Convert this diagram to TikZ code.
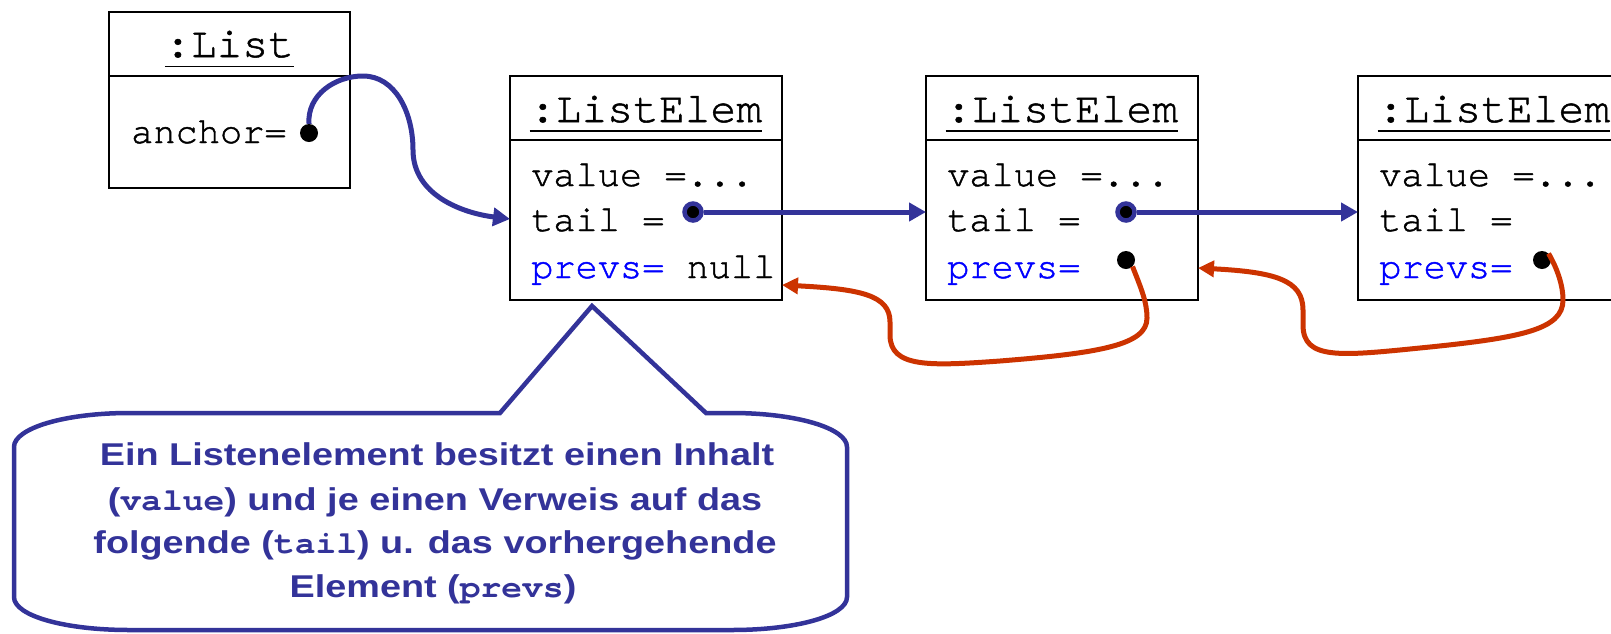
\documentclass[tikz,border=0pt]{standalone}
\usepackage{fontspec}
\setmonofont{texgyrecursor}[Extension=.otf, UprightFont=*-regular, BoldFont=*-bold, FakeBold=1.2]
\newfontfamily\bubblesans{Liberation Sans}[FakeStretch=1.2]
\newfontfamily\bubblemono{texgyrecursor}[Extension=.otf, UprightFont=*-regular, BoldFont=*-bold, FakeStretch=1.1]
\usetikzlibrary{arrows.meta}
\definecolor{linkblue}{HTML}{333399}
\definecolor{backred}{HTML}{CC3300}
\definecolor{fieldblue}{HTML}{0000FF}

\begin{document}
\begin{tikzpicture}[x=1pt,y=-1pt,
  objbox/.style={draw=black, line width=1.8pt, inner sep=0pt, outer sep=0pt, anchor=north west},
  divider/.style={draw=black, line width=1.8pt},
  objtitle/.style={inner sep=0pt, anchor=base, font=\ttfamily\fontsize{43}{50}\selectfont},
  field/.style={inner sep=0pt, anchor=base west, font=\ttfamily\fontsize{37}{44}\selectfont},
  refdot/.style={circle, fill=black, inner sep=0pt, minimum size=18pt},
  ringdot/.style={circle, fill=black, draw=linkblue, line width=4.5pt, inner sep=0pt, minimum size=17pt},
  fwd/.style={draw=linkblue, line width=5pt, -{Triangle[length=17pt,width=18pt]}},
  bwd/.style={draw=backred, line width=5pt, -{Triangle[length=16pt,width=16pt]}},
  note/.style={inner sep=0pt, anchor=base, text=linkblue, font=\bubblesans\bfseries\fontsize{31.5}{44}\selectfont},
]
\useasboundingbox (0,0) rectangle (1611,633);
\clip (0,0) rectangle (1611,633);

% the list object
\node[objbox, minimum width=241pt, minimum height=176pt] (list) at (109,12) {};
\draw[divider] (list.west |- 0,76) -- (list.east |- 0,76);
\node[objtitle] (listT) at (229.5,57) {:List};
\draw[divider] ([yshift=-9.5pt]listT.base west) -- ([yshift=-9.5pt]listT.base east);
\node[field] (anchorF) at (131,143) {anchor=};
\node[refdot] (anc) at (309,133) {};

% three list elements
\foreach \i/\x in {1/510, 2/926, 3/1358} {
  \node[objbox, minimum width=272pt, minimum height=224pt] (e\i) at (\x,76) {};
  \draw[divider] (e\i.west |- 0,140) -- (e\i.east |- 0,140);
  \node[objtitle] (e\i T) at (\x+136,122) {:ListElem};
  \draw[divider] ([yshift=-9pt]e\i T.base west) -- ([yshift=-9pt]e\i T.base east);
  \node[field] (e\i v) at (\x+21,186) {value =...};
  \node[field] (e\i t) at (\x+21,231) {tail =};
}
\node[field] (e1p) at (531,278) {\textcolor{fieldblue}{prevs=} null};
\node[field] (e2p) at (947,278) {\textcolor{fieldblue}{prevs=}};
\node[field] (e3p) at (1379,278) {\textcolor{fieldblue}{prevs=}};

% reference dots
\node[ringdot] (r1) at (693,212) {};
\node[ringdot] (r2) at (1126,212) {};
\node[refdot] (p2) at (1126,260) {};
\node[refdot] (p3) at (1542,260) {};

% forward references
\draw[fwd] (anc.north) .. controls (307,95) and (335,76) .. (363,76)
  .. controls (395,76) and (413,112) .. (413,150)
  .. controls (413,195) and (462,213) .. (e1.west |- 0,219);
\draw[fwd] (r1.east) -- (e2.west |- r1);
\draw[fwd] (r2.east) -- (e3.west |- r2);

% backward references
\draw[bwd] (p2.south east) .. controls (1141,288) and (1147,302) .. (1147,318)
  .. controls (1147,345) and (1100,353) .. (1000,361)
  .. controls (930,366) and (890,368) .. (890,335) -- (890,322)
  .. controls (890,295) and (860,289) .. (e1.east |- 0,285);
\draw[bwd] (p3.north east) .. controls (1557,268) and (1563,285) .. (1563,300)
  .. controls (1563,330) and (1520,338) .. (1420,348)
  .. controls (1340,356) and (1303,360) .. (1303,325) -- (1303,310)
  .. controls (1303,280) and (1275,272) .. (e2.east |- 0,268);

% callout
\draw[draw=linkblue, line width=4.5pt, line join=miter]
  (500,413) -- (129,413) .. controls (65.5,413) and (14,428) .. (14,447)
  -- (14,597) .. controls (14,616) and (65.5,630) .. (129,630)
  -- (732,630) .. controls (795.5,630) and (847,616) .. (847,597)
  -- (847,447) .. controls (847,428) and (795.5,413) .. (732,413)
  -- (706,413) -- (592,306) -- cycle;
\node[note] (n1) at (437,465) {Ein Listenelement besitzt einen Inhalt};
\node[note] (n2) at (435,510) {({\bubblemono value}) und je einen Verweis auf das};
\node[note] (n3) at (435,553) {folgende ({\bubblemono tail}) u. das vorhergehende};
\node[note] (n4) at (433,597) {Element ({\bubblemono prevs})};
\end{tikzpicture}
\end{document}
